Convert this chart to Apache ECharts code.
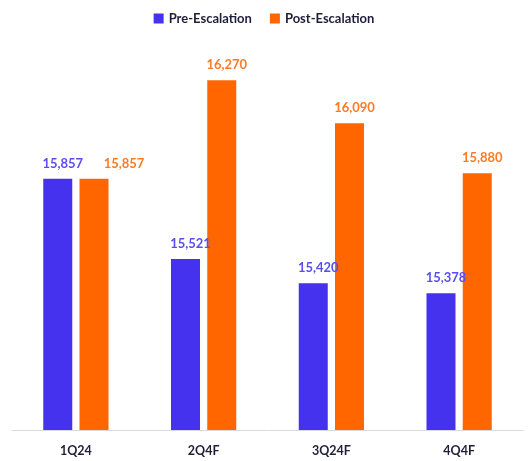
<!DOCTYPE html>
<html>
<head>
<meta charset="utf-8">
<script src="https://cdn.jsdelivr.net/npm/echarts@6/dist/echarts.min.js"></script>
<style>html,body{margin:0;padding:0;background:#fff}#c{width:528px;height:461px}</style>
</head>
<body>
<div id="c"></div>
<script>
const categories = ['1Q24', '2Q4F', '3Q24F', '4Q4F'];
const preEscalation = [15857, 15521, 15420, 15378];
const postEscalation = [15857, 16270, 16090, 15880];
const seriesNames = ['Pre-Escalation', 'Post-Escalation'];

const FONT = 'Lato';
const chart = echarts.init(document.getElementById('c'));
const fmt = p => p.value.toLocaleString('en-US');

chart.setOption({
  animation: false,
  legend: {
    top: 7, left: 'center',
    itemWidth: 10, itemHeight: 10, itemGap: 18,
    icon: 'rect',
    textStyle: { fontFamily: FONT, fontWeight: 'bold', fontSize: 13, color: '#1f1f3a' },
    data: seriesNames
  },
  grid: { left: 12, right: 5, top: 48, bottom: 31, containLabel: false },
  xAxis: {
    type: 'category', data: categories,
    axisLine: { lineStyle: { color: '#d9d9d9', width: 1 } },
    axisTick: { show: false },
    axisLabel: { margin: 14, fontFamily: FONT, fontWeight: 'bold', fontSize: 12.5, color: '#1f1f3a' }
  },
  yAxis: { type: 'value', show: false, min: 14805, max: 16405, splitLine: { show: false } },
  series: [
    {
      name: seriesNames[0], type: 'bar', data: preEscalation,
      barWidth: 29, barGap: '25%',
      itemStyle: { color: '#4532EE' },
      label: { show: true, position: 'top', distance: 9, offset: [5, 0], formatter: fmt,
        fontFamily: FONT, fontWeight: 'bold', fontSize: 13, color: '#5a4ef2' }
    },
    {
      name: seriesNames[1], type: 'bar',
      data: postEscalation.map((v, i) => i === 0 ? { value: v, label: { offset: [30, 0] } } : v),
      barWidth: 29,
      itemStyle: { color: '#FF6600' },
      label: { show: true, position: 'top', distance: 9, offset: [5, 0], formatter: fmt,
        fontFamily: FONT, fontWeight: 'bold', fontSize: 13, color: '#ff7a22' }
    }
  ]
});
</script>
</body>
</html>
